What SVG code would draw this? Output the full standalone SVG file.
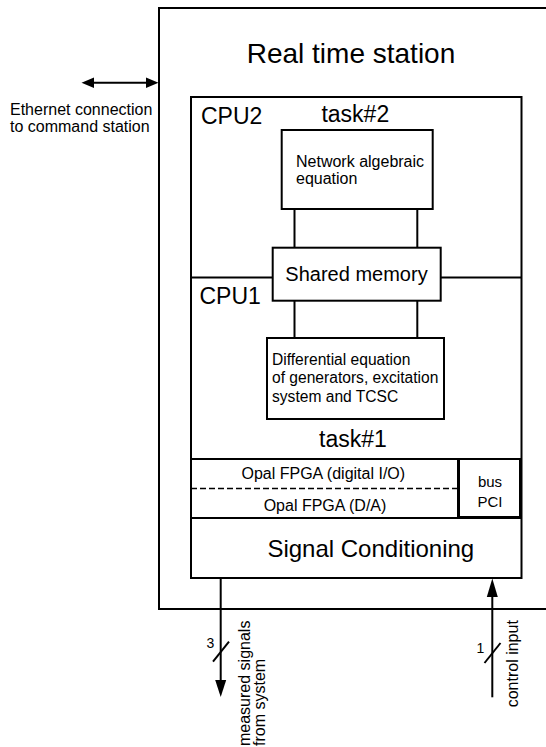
<svg xmlns="http://www.w3.org/2000/svg" width="546" height="747" viewBox="0 0 546 747">
  <defs>
    <style>
      text { font-family: "Liberation Sans", Arial, sans-serif; fill: #000; }
      .box { fill: #fff; stroke: #000; stroke-width: 2; }
      .edge { fill: none; stroke: #000; stroke-width: 2; }
      .wire { fill: none; stroke: #000; stroke-width: 2; }
      .dash { fill: none; stroke: #000; stroke-width: 1.6; stroke-dasharray: 6 3; }
      .head { fill: #000; stroke: none; }
      .mid { text-anchor: middle; }
    </style>
  </defs>
  <rect width="546" height="747" fill="#fff"/>

  <!-- real time station enclosure (open on the right) -->
  <g id="station">
    <path class="edge" d="M546,8 H159 V609 H546"/>
    <text x="351" y="63" class="mid" font-size="28">Real time station</text>
  </g>

  <!-- ethernet link -->
  <g id="ethernet">
    <line class="wire" x1="92" y1="82.7" x2="148" y2="82.7"/>
    <path class="head" d="M81.5,82.7 L94,77.5 L94,87.9 Z"/>
    <path class="head" d="M158.5,82.7 L146,77.5 L146,87.9 Z"/>
    <text x="10" y="115" font-size="16">Ethernet connection</text>
    <text x="10" y="132" font-size="16">to command station</text>
  </g>

  <!-- processor board -->
  <g id="cpu-board">
    <rect class="box" x="191" y="97" width="330.5" height="481"/>
    <line class="edge" x1="191" y1="277.5" x2="521.5" y2="277.5"/>
    <line class="edge" x1="191" y1="518" x2="521.5" y2="518"/>
  </g>

  <g id="cpu2">
    <text x="201" y="124" font-size="23">CPU2</text>
    <text x="355.3" y="122" class="mid" font-size="23">task#2</text>
  </g>

  <g id="cpu1">
    <text x="199.5" y="304" font-size="23">CPU1</text>
    <text x="353" y="446.5" class="mid" font-size="23">task#1</text>
  </g>

  <!-- links between tasks and shared memory -->
  <g id="connectors">
    <line class="wire" x1="294.5" y1="209" x2="294.5" y2="248"/>
    <line class="wire" x1="417.3" y1="209" x2="417.3" y2="248"/>
    <line class="wire" x1="294.5" y1="301" x2="294.5" y2="338"/>
    <line class="wire" x1="417.3" y1="301" x2="417.3" y2="338"/>
  </g>

  <g id="network-eq">
    <rect class="box" x="281.7" y="130" width="151" height="79"/>
    <text x="296" y="166.5" font-size="16">Network algebraic</text>
    <text x="296" y="184" font-size="16">equation</text>
  </g>

  <g id="shared-memory">
    <rect class="box" x="272.7" y="247.7" width="168" height="53"/>
    <text x="356.5" y="280.7" class="mid" font-size="20">Shared memory</text>
  </g>

  <g id="differential-eq">
    <rect class="box" x="267" y="338" width="177" height="81"/>
    <text x="272" y="365" font-size="15.6">Differential equation</text>
    <text x="272" y="383" font-size="15.6">of generators, excitation</text>
    <text x="272" y="401.5" font-size="15.6">system and TCSC</text>
  </g>

  <g id="opal-fpga">
    <rect class="box" x="191" y="459" width="267" height="59"/>
    <line class="dash" x1="191" y1="488.5" x2="458" y2="488.5"/>
    <text x="323.3" y="479" class="mid" font-size="16">Opal FPGA (digital I/O)</text>
    <text x="325" y="511" class="mid" font-size="16">Opal FPGA (D/A)</text>
  </g>

  <g id="bus-pci">
    <rect class="box" x="459" y="459" width="61.5" height="58"/>
    <path class="edge" d="M520,459 V517" stroke-width="3"/>
    <text x="490" y="486.5" class="mid" font-size="15">bus</text>
    <text x="490" y="507" class="mid" font-size="15">PCI</text>
  </g>

  <g id="signal-conditioning">
    <text x="370.8" y="557" class="mid" font-size="24">Signal Conditioning</text>
  </g>

  <!-- measured signals out of the station -->
  <g id="measured-signals">
    <line class="wire" x1="220.7" y1="578" x2="220.7" y2="682"/>
    <path class="head" d="M220.7,697 L215.2,680 L226.2,680 Z"/>
    <line class="wire" x1="213" y1="661.7" x2="229" y2="641.7"/>
    <text x="210.5" y="648" class="mid" font-size="14">3</text>
    <text transform="translate(249.8,746) rotate(-90)" font-size="16">measured signals</text>
    <text transform="translate(264.8,746) rotate(-90)" font-size="16">from system</text>
  </g>

  <!-- control input into the station -->
  <g id="control-input">
    <line class="wire" x1="492.3" y1="697.3" x2="492.3" y2="594"/>
    <path class="head" d="M492.3,578.5 L486.8,597 L497.8,597 Z"/>
    <line class="wire" x1="484.5" y1="663" x2="500.5" y2="643"/>
    <text x="480.5" y="653" class="mid" font-size="14">1</text>
    <text transform="translate(518,707.3) rotate(-90)" font-size="16">control input</text>
  </g>
</svg>
